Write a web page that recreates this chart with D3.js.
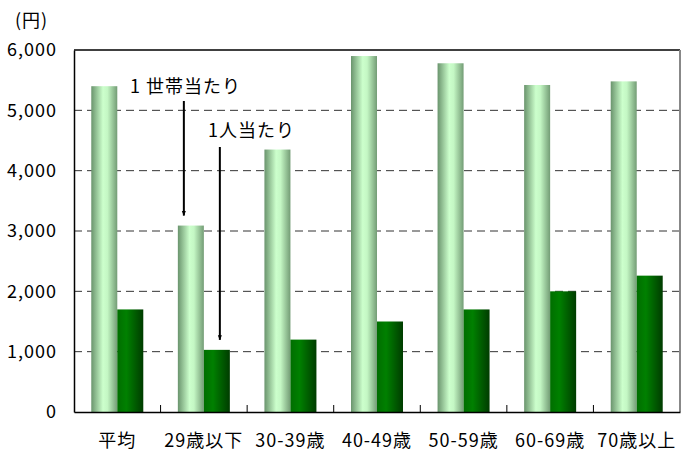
<!DOCTYPE html>
<html>
<head>
<meta charset="utf-8">
<script src="https://cdn.jsdelivr.net/npm/d3@7"></script>
<style>
  body { margin: 0; background: #fff; }
  text { font-family: "Noto Sans CJK JP", "Liberation Sans", sans-serif; letter-spacing: 1px; }
</style>
</head>
<body>
<div id="chart"></div>
<script>
// data
var categories = ["平均", "29歳以下", "30-39歳", "40-49歳", "50-59歳", "60-69歳", "70歳以上"];
var perHousehold = [5400, 3090, 4350, 5900, 5780, 5420, 5480];
var perPerson = [1700, 1030, 1200, 1500, 1700, 2000, 2260];
var yTicks = [0, 1000, 2000, 3000, 4000, 5000, 6000];

var width = 693, height = 455,
    margin = { top: 50, right: 13, bottom: 43, left: 74 },
    w = width - margin.left - margin.right,
    h = height - margin.top - margin.bottom;

var svg = d3.select("#chart").append("svg")
    .attr("width", width).attr("height", height);

var defs = svg.append("defs");
var lg = defs.append("linearGradient").attr("id", "gLight")
    .attr("x1", "0%").attr("x2", "100%").attr("y1", "0%").attr("y2", "0%");
lg.append("stop").attr("offset", "0%").attr("stop-color", "#6a946d");
lg.append("stop").attr("offset", "45%").attr("stop-color", "#ccffcc");
lg.append("stop").attr("offset", "62%").attr("stop-color", "#c4f7c4");
lg.append("stop").attr("offset", "100%").attr("stop-color", "#739c75");

var dg = defs.append("linearGradient").attr("id", "gDark")
    .attr("x1", "0%").attr("x2", "100%").attr("y1", "0%").attr("y2", "0%");
dg.append("stop").attr("offset", "0%").attr("stop-color", "#006e00");
dg.append("stop").attr("offset", "35%").attr("stop-color", "#008000");
dg.append("stop").attr("offset", "100%").attr("stop-color", "#003c00");

var marker = defs.append("marker").attr("id", "arrow")
    .attr("viewBox", "0 0 10 10").attr("refX", 9).attr("refY", 5)
    .attr("markerWidth", 5).attr("markerHeight", 8)
    .attr("markerUnits", "userSpaceOnUse")
    .attr("orient", "auto");
marker.append("path").attr("d", "M0,1 L10,5 L0,9 Z").attr("fill", "#000");

var g = svg.append("g").attr("transform", "translate(" + margin.left + "," + margin.top + ")");

var x = d3.scaleBand().domain(categories).range([0, w]);
var y = d3.scaleLinear().domain([0, 6000]).range([h, 0]);
var barW = 26;

// dashed gridlines
g.selectAll("line.grid").data(yTicks.filter(function(d) { return d > 0 && d < 6000; }))
  .enter().append("line")
    .attr("class", "grid")
    .attr("x1", 0).attr("x2", w)
    .attr("y1", function(d) { return y(d); })
    .attr("y2", function(d) { return y(d); })
    .attr("stroke", "#333")
    .attr("stroke-width", 1)
    .attr("stroke-dasharray", "8,5");

// frame: top black, right gray
g.append("line").attr("x1", 0).attr("x2", w).attr("y1", 0).attr("y2", 0)
  .attr("stroke", "#000").attr("stroke-width", 1.5);
g.append("line").attr("x1", w).attr("x2", w).attr("y1", 0).attr("y2", h)
  .attr("stroke", "#888").attr("stroke-width", 2);

// bars
var grp = g.selectAll("g.cat").data(categories).enter().append("g")
    .attr("class", "cat")
    .attr("transform", function(d) { return "translate(" + (x(d) + x.bandwidth() / 2) + ",0)"; });

grp.append("rect")
    .attr("x", -barW)
    .attr("width", barW)
    .attr("y", function(d, i) { return y(perHousehold[i]); })
    .attr("height", function(d, i) { return h - y(perHousehold[i]); })
    .attr("fill", "url(#gLight)");

grp.append("rect")
    .attr("x", 0)
    .attr("width", barW)
    .attr("y", function(d, i) { return y(perPerson[i]); })
    .attr("height", function(d, i) { return h - y(perPerson[i]); })
    .attr("fill", "url(#gDark)");

// y axis
var yAxis = g.append("g")
    .call(d3.axisLeft(y).tickValues(yTicks).tickFormat(d3.format(",")).tickSize(0).tickPadding(17));
yAxis.select(".domain").attr("stroke", "#000").attr("stroke-width", 1.5);
yAxis.selectAll("text").attr("font-size", "18px").attr("fill", "#000");

// x axis with inward ticks between categories
var xAxis = g.append("g").attr("transform", "translate(0," + h + ")")
    .call(d3.axisBottom(x).tickSize(0).tickPadding(22));
xAxis.select(".domain").attr("stroke", "#000").attr("stroke-width", 1.5);
xAxis.selectAll("text").attr("font-size", "18px").attr("fill", "#000");
g.selectAll("line.xtick").data(categories.slice(1)).enter().append("line")
    .attr("class", "xtick")
    .attr("x1", function(d) { return x(d); })
    .attr("x2", function(d) { return x(d); })
    .attr("y1", h).attr("y2", h - 7)
    .attr("stroke", "#000");

// unit
svg.append("text").attr("x", 15).attr("y", 27).attr("font-size", "18px").text("(円)");

// annotations
var c1 = x(categories[1]) + x.bandwidth() / 2;
g.append("text").attr("x", 56).attr("y", 43).attr("font-size", "18px").text("1 世帯当たり");
g.append("line")
    .attr("x1", c1 - 20).attr("x2", c1 - 20)
    .attr("y1", 51).attr("y2", y(perHousehold[1]) - 10)
    .attr("stroke", "#000").attr("stroke-width", 2)
    .attr("marker-end", "url(#arrow)");

g.append("text").attr("x", 134).attr("y", 87).attr("font-size", "18px").text("1人当たり");
g.append("line")
    .attr("x1", c1 + 16).attr("x2", c1 + 16)
    .attr("y1", 97).attr("y2", y(perPerson[1]) - 10)
    .attr("stroke", "#000").attr("stroke-width", 2)
    .attr("marker-end", "url(#arrow)");
</script>
</body>
</html>
